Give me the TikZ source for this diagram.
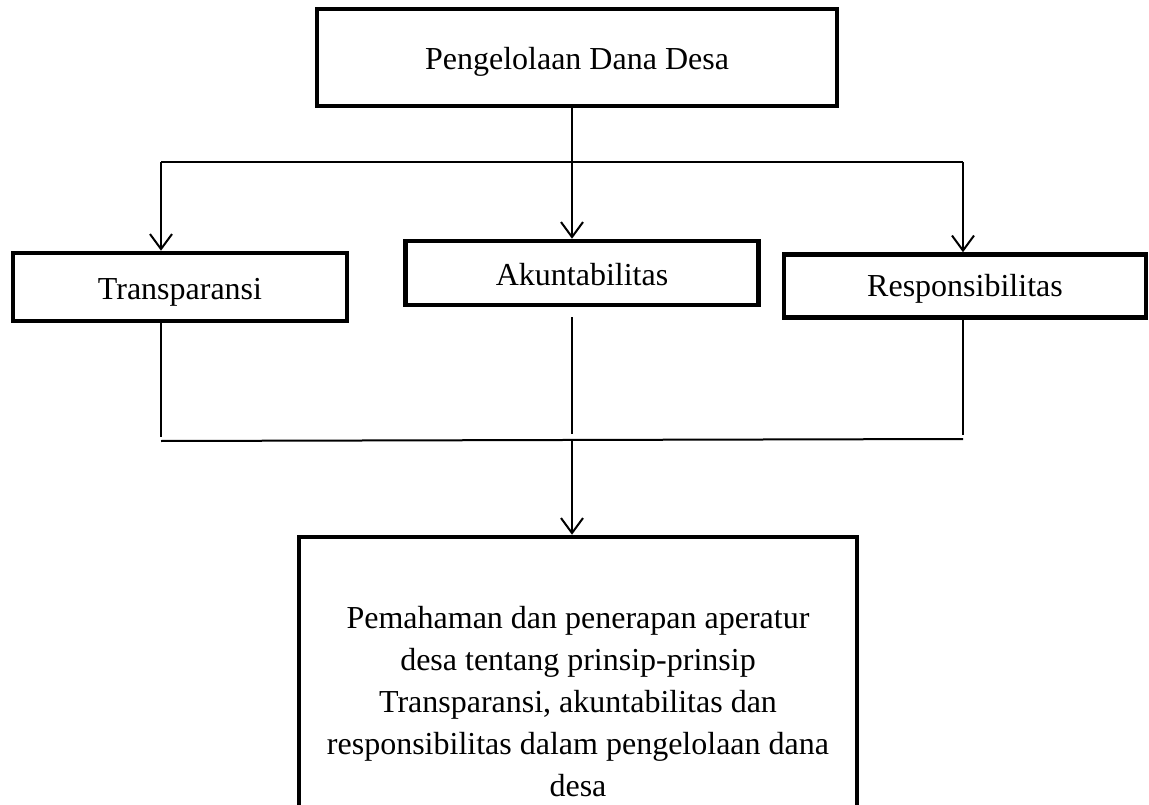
\documentclass[tikz,border=0pt]{standalone}
\usepackage{fontspec}
\setmainfont{Liberation Serif}
\usetikzlibrary{arrows.meta}
\begin{document}
\begin{tikzpicture}[x=1pt,y=-1pt,
  boxnode/.style={draw, line width=4.5pt, rectangle, inner sep=0pt, align=center,
    font=\fontsize{32}{42}\selectfont},
  onebox/.style={boxnode, text height=26pt, text depth=2pt},
  conn/.style={line width=2pt},
  arr/.style={line width=2pt, -{Straight Barb[length=15pt,width=22pt]}}]
\useasboundingbox (0,0) rectangle (1149,805);
\clip (0,0) rectangle (1149,805);
\node[onebox, minimum width=520pt, minimum height=97pt] (top) at (577,57.5) {Pengelolaan Dana Desa};
\node[onebox, minimum width=334pt, minimum height=68pt] (trans) at (180,287) {Transparansi};
\node[onebox, minimum width=353pt, minimum height=64pt] (akun) at (582,273) {Akuntabilitas};
\node[onebox, text height=24pt, text depth=3pt, minimum width=362pt, minimum height=63pt] (resp) at (965,286) {Responsibilitas};
\node[boxnode, minimum width=558pt, minimum height=330pt] (bottom) at (578,702)
  {Pemahaman dan penerapan aperatur\\desa tentang prinsip-prinsip\\Transparansi, akuntabilitas dan\\responsibilitas dalam pengelolaan dana\\desa};
% top distribution
\coordinate (hl) at (161,162);
\coordinate (hr) at (963,162);
\draw[conn] (hl) -- (hr);
\draw[arr] ([xshift=-5pt]top.south) -- ([xshift=-10pt]akun.north);
\draw[arr] (hl) -- (hl |- trans.north);
\draw[arr] (hr) -- (hr |- resp.north);
% bottom collection
\coordinate (bl) at (161,441);
\coordinate (br) at (963,439);
\coordinate (bm) at (572,441);
\coordinate (am) at (572,317);
\draw[conn] (bl) -- (br);
\draw[conn] (trans.south -| bl) -- (161,437);
\draw[conn] (am) -- (572,434);
\draw[conn] (resp.south -| br) -- (963,435);
\draw[arr] (bm) -- ([xshift=-6pt]bottom.north);
\end{tikzpicture}
\end{document}
